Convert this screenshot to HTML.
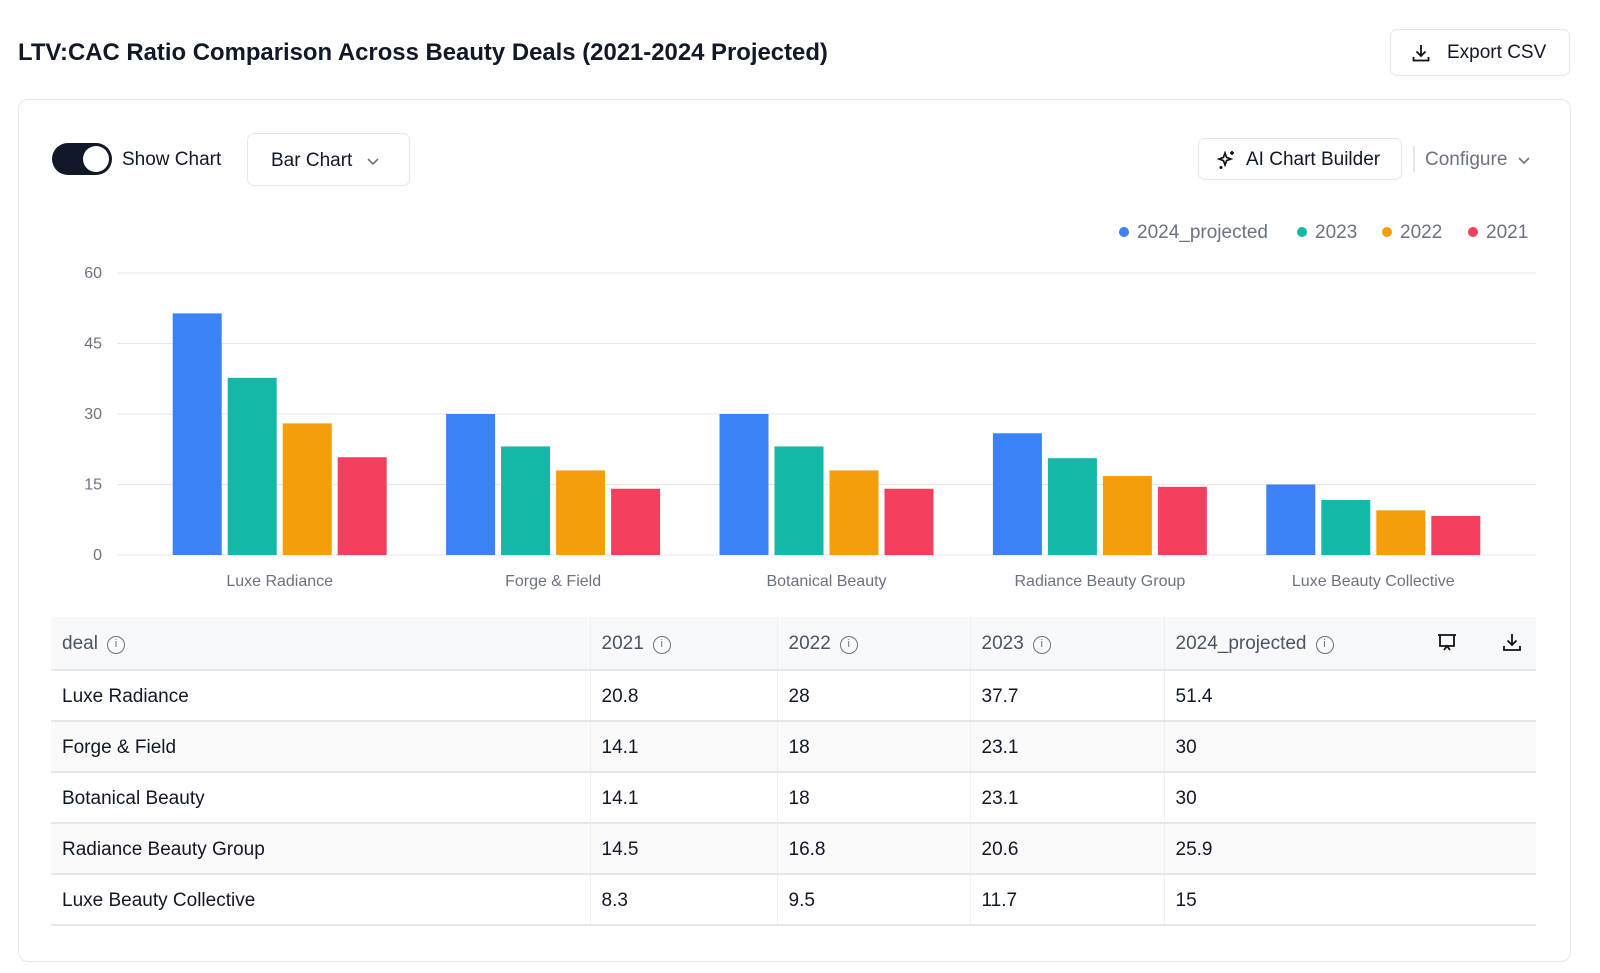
<!DOCTYPE html>
<html><head><meta charset="utf-8"><style>
*{box-sizing:border-box;margin:0;padding:0}
body{width:1600px;height:973px;background:#fff;font-family:"Liberation Sans",sans-serif;color:#111827;position:relative;overflow:hidden}
.abs{position:absolute}
.title{left:18px;top:39px;font-size:23.9px;font-weight:bold;white-space:nowrap}
.btn{border:1px solid #e5e7eb;border-radius:7px;background:#fff;display:flex;align-items:center;font-size:19px}
.card{left:18px;top:99px;width:1553px;height:863px;border:1px solid #e5e7eb;border-radius:10px}
table{border-collapse:collapse;font-size:19px}
td{height:51px;padding-left:11px;border-bottom:2px solid #e5e7eb;border-right:1px solid #eef0f3;padding-top:2px}
td:last-child{border-right:none}
tr.h td{background:#f8f9fb;color:#4b5563;height:53px;border-bottom:2px solid #e5e7eb}
tr.alt td{background:#fafafb}
.info{display:inline-block;width:18px;height:18px;border:1.5px solid #6b7280;border-radius:50%;font-size:11px;text-align:center;line-height:15px;vertical-align:2px;margin-left:9px;color:#6b7280}
</style></head><body>
<div class="abs title">LTV:CAC Ratio Comparison Across Beauty Deals (2021-2024 Projected)</div>
<div class="abs btn" style="left:1390px;top:29px;width:180px;height:47px;padding-left:20px">
<svg width="20" height="20" viewBox="0 0 20 20" fill="none" stroke="#111" stroke-width="1.8"><path d="M10 2v11M5.5 8.5L10 13l4.5-4.5M2.5 14v3.5h15V14"/></svg><span style="margin-left:16px">Export CSV</span></div>
<div class="abs card"></div>
<div class="abs" style="left:52px;top:143px;width:60px;height:32px;border-radius:16px;background:#111827"><div style="position:absolute;right:3px;top:3px;width:26px;height:26px;border-radius:50%;background:#fff"></div></div>
<div class="abs" style="left:122px;top:149px;font-size:19px">Show Chart</div>
<div class="abs btn" style="left:247px;top:133px;width:163px;height:53px;padding-left:23px;padding-top:2px">Bar Chart<svg style="margin-left:14px" width="14" height="10" viewBox="0 0 14 10" fill="none" stroke="#6b7280" stroke-width="1.6"><path d="M2 3l5 5 5-5"/></svg></div>
<div class="abs btn" style="left:1198px;top:138px;width:204px;height:42px;padding-left:17px;padding-top:2px">
<svg width="22" height="22" viewBox="0 0 22 22" fill="none" stroke="#111" stroke-width="1.7"><path d="M9 4l1.6 4.4L15 10l-4.4 1.6L9 16l-1.6-4.4L3 10l4.4-1.6z"/><path d="M16 2v4M14 4h4M5 17v3M3.5 18.5h3"/></svg><span style="margin-left:8px">AI Chart Builder</span></div>
<div class="abs" style="left:1413px;top:146px;width:2px;height:26px;background:#e5e7eb"></div>
<div class="abs" style="left:1425px;top:149px;font-size:19px;color:#6b7280;display:flex;align-items:center">Configure<svg style="margin-left:10px" width="14" height="10" viewBox="0 0 14 10" fill="none" stroke="#6b7280" stroke-width="1.6"><path d="M2 3l5 5 5-5"/></svg></div>
<svg class="abs" style="left:0;top:0" width="1600" height="600" id="chart"></svg>
<table class="abs" style="left:51px;top:617px;width:1485px">
<colgroup><col style="width:539px"><col style="width:187px"><col style="width:193px"><col style="width:194px"><col></colgroup>
<tr class="h"><td>deal<span class="info">i</span></td><td>2021<span class="info">i</span></td><td>2022<span class="info">i</span></td><td>2023<span class="info">i</span></td><td style="position:relative">2024_projected<span class="info">i</span>
<svg style="position:absolute;left:271px;top:15px" width="22" height="22" viewBox="0 0 22 22" fill="none" stroke="#111" stroke-width="1.8"><path d="M2 3h18M4 3v11h14V3M8 18l3-4 3 4"/></svg>
<svg style="position:absolute;left:336px;top:14px" width="22" height="22" viewBox="0 0 22 22" fill="none" stroke="#111" stroke-width="1.8"><path d="M11 3v11M6.5 9.5L11 14l4.5-4.5M3 15v4h16v-4"/></svg></td></tr>
<tr><td>Luxe Radiance</td><td>20.8</td><td>28</td><td>37.7</td><td>51.4</td></tr>
<tr class="alt"><td>Forge &amp; Field</td><td>14.1</td><td>18</td><td>23.1</td><td>30</td></tr>
<tr><td>Botanical Beauty</td><td>14.1</td><td>18</td><td>23.1</td><td>30</td></tr>
<tr class="alt"><td>Radiance Beauty Group</td><td>14.5</td><td>16.8</td><td>20.6</td><td>25.9</td></tr>
<tr><td>Luxe Beauty Collective</td><td>8.3</td><td>9.5</td><td>11.7</td><td>15</td></tr>
</table>
<script>
const categories=["Luxe Radiance","Forge & Field","Botanical Beauty","Radiance Beauty Group","Luxe Beauty Collective"];
const seriesNames=["2024_projected","2023","2022","2021"];
const s2024=[51.4,30,30,25.9,15];
const s2023=[37.7,23.1,23.1,20.6,11.7];
const s2022=[28,18,18,16.8,9.5];
const s2021=[20.8,14.1,14.1,14.5,8.3];
const yTicks=[0,15,30,45,60];
const colors=["#3b82f6","#14b8a6","#f59e0b","#f43f5e"];
const series=[s2024,s2023,s2022,s2021];
const NS="http://www.w3.org/2000/svg";
const svg=document.getElementById('chart');
const y0=555,y1=273,yMax=60,gx0=117,gx1=1536,bx0=143,bw=273.4,barW=49,step=55;
const y=v=>y0-(v/yMax)*(y0-y1);
const x=i=>bx0+bw*i+bw/2;
function mk(t,a){const e=document.createElementNS(NS,t);for(const k in a)e.setAttribute(k,a[k]);svg.appendChild(e);return e;}
yTicks.forEach(t=>{
 const l=mk('line',{x1:gx0,x2:gx1,y1:y(t),y2:y(t),stroke:'#e5e7eb','stroke-width':1});
 
 
 const tx=mk('text',{x:102,y:y(t)+5,'text-anchor':'end','font-size':16,fill:'#6b7280','font-family':'Liberation Sans, sans-serif'});
 tx.textContent=t;
 
 
});
categories.forEach((c,i)=>{
 series.forEach((s,j)=>{
  const bx=x(i)-(4*barW+3*(step-barW))/2+j*step;
  const r=mk('rect',{x:bx,y:y(s[i]),width:barW,height:y0-y(s[i]),fill:colors[j]});
  
  
 });
 const tx=mk('text',{x:x(i),y:586,'text-anchor':'middle','font-size':16,fill:'#6b7280','font-family':'Liberation Sans, sans-serif'});
 tx.textContent=c;
 
 
});
const legX=[1124,1302,1387,1473];
seriesNames.forEach((n,j)=>{
 const d=mk('circle',{cx:legX[j],cy:232,r:5,fill:colors[j]});
 
 
 const t=mk('text',{x:legX[j]+13,y:238,'font-size':19,fill:'#6b7280','font-family':'Liberation Sans, sans-serif'});
 t.textContent=n;
 
 
});
</script>
</body></html>
